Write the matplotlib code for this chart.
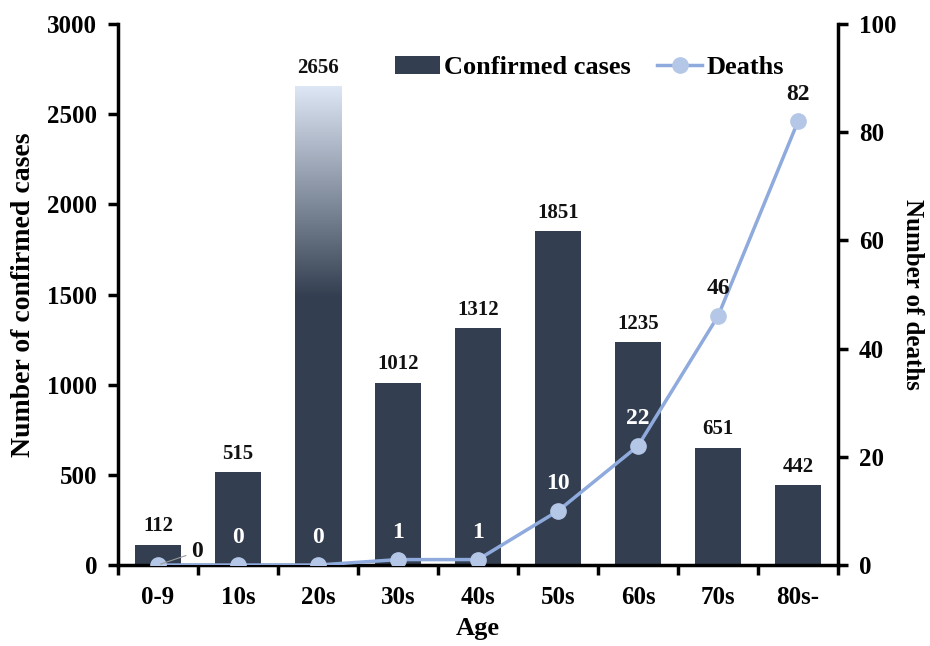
import matplotlib.pyplot as plt
import numpy as np
from matplotlib.colors import LinearSegmentedColormap

ages = ['0-9', '10s', '20s', '30s', '40s', '50s', '60s', '70s', '80s-']
cases = [112, 515, 2656, 1012, 1312, 1851, 1235, 651, 442]
deaths = [0, 0, 0, 1, 1, 10, 22, 46, 82]

plt.rcParams['font.family'] = ['Liberation Serif', 'DejaVu Serif']
plt.rcParams['font.weight'] = 'bold'

bar_col = '#333f50'
line_col = '#8faadc'
mark_col = '#b4c7e7'

fig = plt.figure(figsize=(9.3, 6.46), dpi=100)
ax = fig.add_axes([118/930, 81/646, 720/930, 541/646])
x = np.arange(len(ages))

bars = ax.bar(x, cases, width=0.58, color=bar_col, zorder=2, label='Confirmed cases')

# gradient fill on the tallest bar
top_bar = bars[int(np.argmax(cases))]
bx, bw, bh = top_bar.get_x(), top_bar.get_width(), top_bar.get_height()
cmap = LinearSegmentedColormap.from_list('g', [(0, bar_col), (0.56, bar_col), (1, '#dde6f5')])
grad = np.linspace(0, 1, 256).reshape(-1, 1)
ax.imshow(grad, extent=[bx, bx + bw, 0, bh], origin='lower', aspect='auto',
          cmap=cmap, zorder=2.1)
top_bar.set_alpha(0)

for xi, v in zip(x, cases):
    ax.annotate(str(v), (xi, v), xytext=(0, 6), textcoords='offset points',
                ha='center', va='bottom', fontsize=15, fontweight='bold', color='#111111')

ax.set_xlim(-0.5, len(ages) - 0.5)
ax.set_ylim(0, 3000)
ax.set_yticks(range(0, 3001, 500))
ax.set_xticks(x)
ax.set_xticklabels(ages)
ax.set_xticks(np.arange(-0.5, len(ages), 1), minor=True)
ax.tick_params(axis='x', which='major', length=0, pad=15, labelsize=18)
ax.tick_params(axis='x', which='minor', length=7, width=2.5, direction='out')
ax.tick_params(axis='y', length=7, width=2.5, labelsize=18, pad=8)
ax.set_ylabel('Number of confirmed cases', fontsize=20, fontweight='bold', labelpad=8)
ax.set_xlabel('Age', fontsize=19, fontweight='bold', labelpad=6)
for s in ['top', 'right']:
    ax.spines[s].set_visible(False)
for s in ['left', 'bottom']:
    ax.spines[s].set_linewidth(2.5)

ax2 = ax.twinx()
ax2.plot(x, deaths, color=line_col, lw=2.5, marker='o', markersize=11,
         markerfacecolor=mark_col, markeredgecolor=mark_col, zorder=3, label='Deaths')
ax2.set_ylim(0, 100)
ax2.set_yticks(range(0, 101, 20))
ax2.tick_params(axis='y', length=7, width=2.5, labelsize=18, pad=8)
ax2.set_ylabel('Number of deaths', fontsize=18, fontweight='bold', rotation=270, labelpad=20)
for s in ['top', 'left', 'bottom']:
    ax2.spines[s].set_visible(False)
ax2.spines['right'].set_linewidth(2.5)

for i, (xi, d) in enumerate(zip(x, deaths)):
    if i == 0:
        ax2.annotate(str(d), (xi, d), xytext=(24, 2), textcoords='offset points',
                     ha='left', va='bottom', fontsize=17, fontweight='bold', color='#111111',
                     arrowprops=dict(arrowstyle='-', color='#999999', lw=0.8))
        continue
    inside = deaths[i] / 100 * 3000 < cases[i] - 150
    ax2.annotate(str(d), (xi, d), xytext=(0, 12), textcoords='offset points',
                 ha='center', va='bottom', fontsize=17, fontweight='bold',
                 color='white' if inside else '#111111')

h1, l1 = ax.get_legend_handles_labels()
h2, l2 = ax2.get_legend_handles_labels()
ax.legend(h1 + h2, l1 + l2, loc='upper center', bbox_to_anchor=(0.655, 0.985), ncol=2,
          frameon=False, fontsize=19, handlelength=1.7, columnspacing=1.0, handletextpad=0.15)

fig.savefig('out.png', dpi=100)
